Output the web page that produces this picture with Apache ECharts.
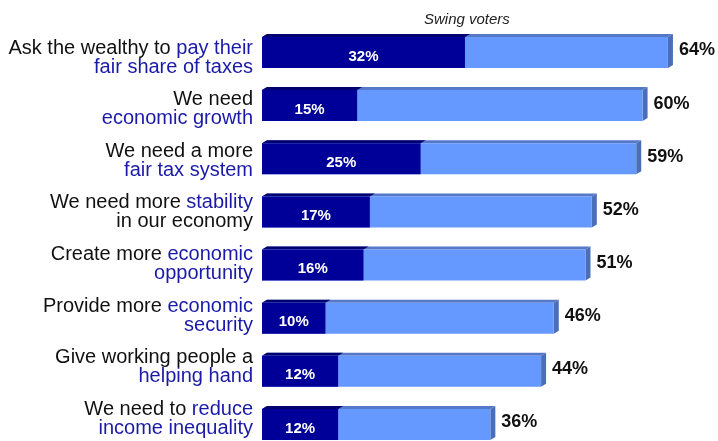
<!DOCTYPE html>
<html>
<head>
<meta charset="utf-8">
<script src="https://cdn.jsdelivr.net/npm/echarts@6/dist/echarts.min.js"></script>
<style>
  html, body { margin: 0; padding: 0; background: #ffffff; }
  #chart { width: 718px; height: 441px; }
</style>
</head>
<body>
<div id="chart"></div>
<script>
// Statements tested with swing voters; {hl|...} marks the highlighted words.
var categories = [
  'Ask the wealthy to {hl|pay their}\n{hl|fair share of taxes}',
  'We need\n{hl|economic growth}',
  'We need a more\n{hl|fair tax system}',
  'We need more {hl|stability}\nin our economy',
  'Create more {hl|economic}\n{hl|opportunity}',
  'Provide more {hl|economic}\n{hl|security}',
  'Give working people a\n{hl|helping hand}',
  'We need to {hl|reduce}\n{hl|income inequality}'
];
// Overall share (light bar) and strongest share (dark bar), in percent
var totalValues = [64, 60, 59, 52, 51, 46, 44, 36];
var strongValues = [32, 15, 25, 17, 16, 10, 12, 12];
var chartTitle = 'Swing voters';

var BAR = 31;       // front face height
var DX = 5, DY = 3; // extrusion depth of the 3D faces
var FONT = 'Liberation Sans, Arial, sans-serif';

var colors = {
  light: '#6699ff',
  lightTop: '#5578c8',
  lightSide: '#4a6fb8',
  dark: '#000099',
  darkTop: '#00006e',
  catText: '#111111',
  catHl: '#1a1aa8'
};

var chart = echarts.init(document.getElementById('chart'), null, { renderer: 'canvas' });

// Top and right faces that give each bar its depth
function renderFaces(params, api) {
  var y = api.value(0);
  var p0 = api.coord([0, y]);
  var pT = api.coord([api.value(1), y]);
  var pS = api.coord([api.value(2), y]);
  var x0 = p0[0], x1 = pT[0], xs = pS[0];
  var top = p0[1] - BAR / 2, bot = p0[1] + BAR / 2;
  return {
    type: 'group',
    children: [
      { type: 'polygon', shape: { points: [[x0, top], [x0 + DX, top - DY], [x1 + DX, top - DY], [x1, top]] },
        style: { fill: colors.lightTop } },
      { type: 'polygon', shape: { points: [[x1, top], [x1 + DX, top - DY], [x1 + DX, bot - DY], [x1, bot]] },
        style: { fill: colors.lightSide } },
      { type: 'polygon', shape: { points: [[x0, top], [x0 + DX, top - DY], [xs + DX, top - DY], [xs, top]] },
        style: { fill: colors.darkTop } }
    ]
  };
}

chart.setOption({
  animation: false,
  title: {
    text: chartTitle,
    left: 419, top: 7,
    textStyle: { fontFamily: FONT, fontSize: 15, fontStyle: 'italic', fontWeight: 'normal', color: '#222' }
  },
  grid: [
    // bars
    { left: 262, top: 25.9, width: 444, height: 425.1, containLabel: false, outerBoundsMode: 'none' },
    // statement labels, set slightly tighter than the bars
    { left: 262, top: 31.7, width: 444, height: 413.1, containLabel: false, outerBoundsMode: 'none' }
  ],
  xAxis: [
    { type: 'value', gridIndex: 0, min: 0, max: 70, show: false },
    { type: 'value', gridIndex: 1, min: 0, max: 70, show: false }
  ],
  yAxis: [
    {
      type: 'category', gridIndex: 0, inverse: true, data: categories,
      axisLine: { show: false }, axisTick: { show: false }, splitLine: { show: false },
      axisLabel: { show: false }
    },
    {
      type: 'category', gridIndex: 1, inverse: true, data: categories,
      axisLine: { show: false }, axisTick: { show: false }, splitLine: { show: false },
      axisLabel: {
        margin: 9,
        align: 'right',
        fontFamily: FONT,
        fontSize: 20,
        lineHeight: 19,
        color: colors.catText,
        rich: {
          hl: { color: colors.catHl, fontFamily: FONT, fontSize: 20, lineHeight: 19 }
        }
      }
    }
  ],
  series: [
    {
      type: 'custom',
      renderItem: renderFaces,
      encode: { y: 0, x: [1, 2] },
      data: categories.map(function (c, i) { return [i, totalValues[i], strongValues[i]]; }),
      z: 1,
      silent: true
    },
    {
      type: 'bar',
      data: totalValues,
      barWidth: BAR,
      barGap: '-100%',
      clip: false,
      itemStyle: { color: colors.light },
      label: {
        show: true, position: 'right', distance: 11, offset: [0, -2],
        formatter: '{c}%',
        fontFamily: FONT,
        fontSize: 18, fontWeight: 'bold', color: '#111'
      },
      z: 2
    },
    {
      type: 'bar',
      data: strongValues,
      barWidth: BAR,
      barGap: '-100%',
      clip: false,
      itemStyle: { color: colors.dark },
      label: {
        show: true, position: 'inside', offset: [0, 4],
        formatter: '{c}%',
        fontFamily: FONT,
        fontSize: 15, fontWeight: 'bold', color: '#ffffff'
      },
      z: 3
    }
  ]
});
</script>
</body>
</html>
